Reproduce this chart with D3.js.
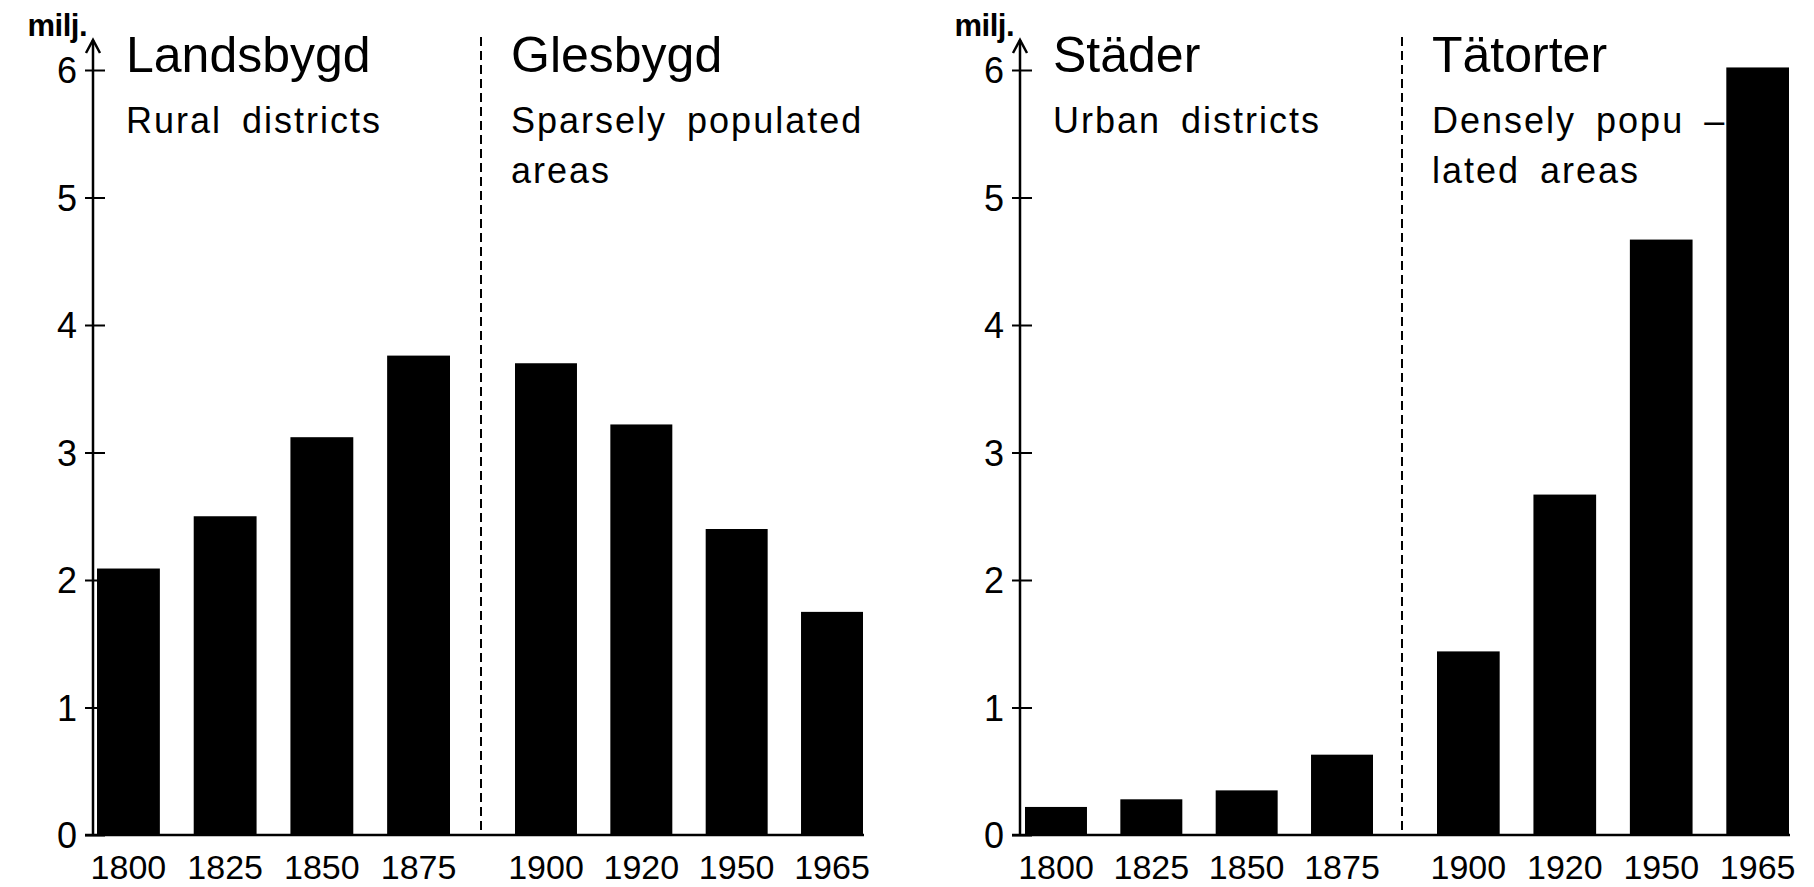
<!DOCTYPE html>
<html>
<head>
<meta charset="utf-8">
<script src="https://cdn.jsdelivr.net/npm/d3@7"></script>
<style>
  body { margin: 0; background: #fff; }
  text { font-family: "Liberation Sans", Arial, sans-serif; fill: #000; }
</style>
</head>
<body>
<div id="chart"></div>
<script>
// years on the x axis, split at the dashed line
var yearsEarly = ["1800", "1825", "1850", "1875"];
var yearsLate = ["1900", "1920", "1950", "1965"];

// population, millions
var landsbygd = [2.09, 2.50, 3.12, 3.76];
var glesbygd = [3.70, 3.22, 2.40, 1.75];
var stader = [0.22, 0.28, 0.35, 0.63];
var tatorter = [1.44, 2.67, 4.67, 6.02];

var yTicks = [0, 1, 2, 3, 4, 5, 6];
var unitLabel = "milj.";

var titlesLeft = ["Landsbygd", "Glesbygd"];
var subsLeft = [["Rural districts"], ["Sparsely populated", "areas"]];
var titlesRight = ["Städer", "Tätorter"];
var subsRight = [["Urban districts"], ["Densely popu –", "lated areas"]];

var width = 1814, height = 887;
var svg = d3.select("#chart").append("svg")
  .attr("width", width)
  .attr("height", height);
svg.append("rect").attr("width", width).attr("height", height).attr("fill", "#fff");

var y = d3.scaleLinear().domain([0, 6]).range([835, 70]);

function panel(opt) {
  var g = svg.append("g");
  var xa = d3.scaleBand().domain(yearsEarly).range(opt.rangeA).paddingInner(0.35).paddingOuter(0);
  var xb = d3.scaleBand().domain(yearsLate).range(opt.rangeB).paddingInner(0.35).paddingOuter(0);

  // bars
  g.selectAll("rect.a").data(opt.early).enter().append("rect")
    .attr("class", "a")
    .attr("x", function(d, i) { return xa(yearsEarly[i]); })
    .attr("width", xa.bandwidth())
    .attr("y", function(d) { return y(d); })
    .attr("height", function(d) { return y(0) - y(d); })
    .attr("fill", "#000");
  g.selectAll("rect.b").data(opt.late).enter().append("rect")
    .attr("class", "b")
    .attr("x", function(d, i) { return xb(yearsLate[i]); })
    .attr("width", xb.bandwidth())
    .attr("y", function(d) { return y(d); })
    .attr("height", function(d) { return y(0) - y(d); })
    .attr("fill", "#000");

  // y axis, ticks cross the line
  var ay = g.append("g")
    .attr("transform", "translate(" + opt.axisX + ",0)")
    .call(d3.axisLeft(y).tickValues(yTicks).tickFormat(d3.format("d")).tickSize(9).tickPadding(7));
  ay.select(".domain").remove();
  ay.selectAll(".tick line").attr("x1", -8).attr("x2", 12).attr("stroke", "#000").attr("stroke-width", 2);
  ay.selectAll(".tick text").attr("font-size", 36).attr("font-family", "Liberation Sans, Arial, sans-serif").attr("dy", "0.36em");

  g.append("line")
    .attr("x1", opt.axisX).attr("x2", opt.axisX)
    .attr("y1", y(0)).attr("y2", 40)
    .attr("stroke", "#000").attr("stroke-width", 2.5);
  g.append("path")
    .attr("d", "M" + (opt.axisX - 7) + ",53L" + opt.axisX + ",40L" + (opt.axisX + 7) + ",53")
    .attr("fill", "none").attr("stroke", "#000").attr("stroke-width", 2.5);

  g.append("text")
    .attr("x", opt.axisX - 6).attr("y", 36)
    .attr("text-anchor", "end")
    .attr("font-size", 31).attr("font-weight", "bold")
    .attr("letter-spacing", -0.5)
    .text(unitLabel);

  // x baseline
  g.append("line")
    .attr("x1", opt.axisX - 8).attr("x2", opt.rangeB[1] + 1)
    .attr("y1", y(0)).attr("y2", y(0))
    .attr("stroke", "#000").attr("stroke-width", 2.5);

  // year labels
  [[xa, yearsEarly], [xb, yearsLate]].forEach(function(p) {
    var ax = g.append("g")
      .attr("transform", "translate(0," + y(0) + ")")
      .call(d3.axisBottom(p[0]).tickSize(0).tickPadding(20));
    ax.select(".domain").remove();
    ax.selectAll(".tick text").attr("font-size", 34).attr("font-family", "Liberation Sans, Arial, sans-serif");
  });

  // dashed divider
  g.append("line")
    .attr("x1", opt.dashX).attr("x2", opt.dashX)
    .attr("y1", 37).attr("y2", y(0))
    .attr("stroke", "#000").attr("stroke-width", 2)
    .attr("stroke-dasharray", "9,5");

  // headings
  var starts = [opt.axisX + 33, opt.dashX + 30];
  starts.forEach(function(sx, k) {
    g.append("text")
      .attr("x", sx).attr("y", 72)
      .attr("font-size", 50)
      .text(opt.titles[k]);
    opt.subs[k].forEach(function(line, j) {
      g.append("text")
        .attr("x", sx).attr("y", 133 + j * 50)
        .attr("font-size", 36)
        .attr("letter-spacing", 2)
        .attr("word-spacing", 8)
        .text(line);
    });
  });
}

panel({
  axisX: 93, rangeA: [97, 450], rangeB: [515, 863], dashX: 481,
  early: landsbygd, late: glesbygd, titles: titlesLeft, subs: subsLeft
});
panel({
  axisX: 1020, rangeA: [1025, 1373], rangeB: [1437, 1789], dashX: 1402,
  early: stader, late: tatorter, titles: titlesRight, subs: subsRight
});
</script>
</body>
</html>
